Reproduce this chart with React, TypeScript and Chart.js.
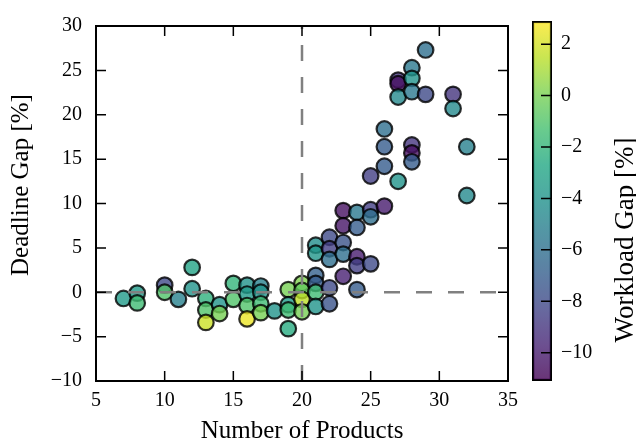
import React, { useEffect, useRef } from 'react';
import { Chart, registerables } from 'chart.js';
Chart.register(...registerables);

// ---- data ----
const productCounts = [7, 8, 8, 10, 10, 11, 12, 12, 13, 13, 13, 14, 14, 15, 15, 16, 16, 16, 16, 17, 17, 17, 17, 18, 19, 19, 19, 19, 20, 20, 20, 20, 21, 21, 21, 21, 21, 21, 22, 22, 22, 22, 22, 23, 23, 23, 23, 23, 24, 24, 24, 24, 24, 25, 25, 25, 25, 26, 26, 26, 26, 27, 27, 27, 27, 28, 28, 28, 28, 28, 28, 29, 29, 31, 31, 32, 32];
const deadlineGaps = [-0.7, -0.1, -1.2, 0.8, 0.0, -0.8, 2.8, 0.4, -0.7, -2.0, -3.4, -1.4, -2.4, 1.0, -0.8, 0.8, -0.2, -1.5, -3.0, 0.7, 0.0, -1.3, -2.3, -2.1, 0.3, -1.4, -2.0, -4.1, 1.0, 0.2, -0.8, -2.2, 5.3, 4.4, 1.9, 1.0, 0.0, -1.6, 6.2, 4.9, 3.7, 0.5, -1.3, 9.2, 7.5, 5.6, 4.3, 1.8, 9.0, 7.3, 4.0, 3.0, 0.3, 9.3, 8.5, 3.2, 13.1, 9.7, 18.4, 16.4, 14.2, 12.5, 23.9, 23.5, 22.0, 25.3, 24.1, 22.6, 16.6, 15.7, 14.7, 27.3, 22.3, 22.3, 20.7, 16.4, 10.9];
const workloadGaps = [-3.5, -3.5, -1.5, -8, -1, -5, -3, -4, -2.2, -1, 1.8, -4, 0, -2, -1, -4, -3.5, -1, 2.5, -5, -4, -1.5, 0, -4, 0, -3.5, -1.5, -2.5, 0.2, -0.5, 1.5, 0, -4.3, -3.8, -6.8, -7, -1.5, -4, -8, -8.5, -6, -8, -7.5, -10.5, -10.3, -7.5, -6, -9.8, -5.5, -7, -10, -8.5, -7, -8.5, -6, -8, -8.5, -10, -6, -7, -7, -4, -9, -10.5, -4.5, -5.5, -4, -5.5, -9, -10.5, -7, -6, -8, -9, -4.5, -5, -4.5];

const X_RANGE = [5, 35];
const Y_RANGE = [-10, 30];
const X_STEP = 5;
const Y_STEP = 5;
const COLOR_RANGE = [-11.1, 2.9];
const COLOR_TICKS = [-10, -8, -6, -4, -2, 0, 2];
const THRESHOLD_PRODUCTS = 20;
const THRESHOLD_GAP = 0;

const X_LABEL = 'Number of Products';
const Y_LABEL = 'Deadline Gap [%]';
const C_LABEL = 'Workload Gap [%]';

// ---- viridis colormap ----
const VIRIDIS = ['#440154', '#482475', '#414487', '#355f8d', '#2a788e', '#21918c', '#22a884', '#44bf70', '#7ad151', '#bddf26', '#fde725'];
const ALPHA = 0.8;
function hexToRgb(h: string) {
  return [parseInt(h.slice(1, 3), 16), parseInt(h.slice(3, 5), 16), parseInt(h.slice(5, 7), 16)];
}
function viridis(t: number, a = ALPHA) {
  t = Math.max(0, Math.min(1, t));
  const n = VIRIDIS.length - 1;
  const i = Math.min(Math.floor(t * n), n - 1);
  const f = t * n - i;
  const c0 = hexToRgb(VIRIDIS[i]);
  const c1 = hexToRgb(VIRIDIS[i + 1]);
  const c = c0.map((v, k) => Math.round(v + (c1[k] - v) * f));
  return `rgba(${c[0]},${c[1]},${c[2]},${a})`;
}
const colorFor = (z: number) => viridis((z - COLOR_RANGE[0]) / (COLOR_RANGE[1] - COLOR_RANGE[0]));

const FONT = '"Liberation Serif", "Times New Roman", serif';
const fmt = (v: number) => (v < 0 ? '\u2212' + Math.abs(v) : String(v));

const W = 636;
const H = 445;

const mainPlugin = {
  id: 'mainDecor',
  afterDatasetsDraw(chart: any) {
    const { ctx, chartArea: a, scales } = chart;
    const xs = scales.x;
    const ys = scales.y;
    ctx.save();
    ctx.strokeStyle = '#000';
    ctx.lineWidth = 1.5;
    const TL = 10;
    ctx.beginPath();
    xs.ticks.forEach((t: any) => {
      const p = xs.getPixelForValue(t.value);
      ctx.moveTo(p, a.bottom);
      ctx.lineTo(p, a.bottom - TL);
      ctx.moveTo(p, a.top);
      ctx.lineTo(p, a.top + TL);
    });
    ys.ticks.forEach((t: any) => {
      const p = ys.getPixelForValue(t.value);
      ctx.moveTo(a.left, p);
      ctx.lineTo(a.left + TL, p);
      ctx.moveTo(a.right, p);
      ctx.lineTo(a.right - TL, p);
    });
    ctx.stroke();
    ctx.lineWidth = 2;
    ctx.strokeRect(a.left, a.top, a.right - a.left, a.bottom - a.top);
    ctx.restore();
  },
  afterDraw(chart: any) {
    const { ctx, chartArea: a } = chart;
    ctx.save();
    ctx.fillStyle = '#000';
    ctx.font = `25px ${FONT}`;
    ctx.textAlign = 'center';
    ctx.textBaseline = 'alphabetic';
    ctx.fillText(X_LABEL, (a.left + a.right) / 2, a.bottom + 57);
    ctx.translate(a.left - 68, a.top + 159);
    ctx.rotate(-Math.PI / 2);
    ctx.fillText(Y_LABEL, 0, 0);
    ctx.restore();
  },
};

const cbPlugin = {
  id: 'cbDecor',
  afterDatasetsDraw(chart: any) {
    const { ctx, chartArea: a, scales } = chart;
    const ys = scales.y;
    ctx.save();
    ctx.strokeStyle = '#000';
    ctx.lineWidth = 1.5;
    ctx.beginPath();
    ys.ticks.forEach((t: any) => {
      const p = ys.getPixelForValue(t.value);
      ctx.moveTo(a.right - 1, p);
      ctx.lineTo(a.right - 11, p);
    });
    ctx.stroke();
    ctx.fillStyle = '#000';
    ctx.font = `27px ${FONT}`;
    ctx.textAlign = 'center';
    ctx.textBaseline = 'alphabetic';
    ctx.translate(a.right + 81, a.top + 219);
    ctx.rotate(-Math.PI / 2);
    ctx.fillText(C_LABEL, 0, 0);
    ctx.restore();
  },
};

export default function App() {
  const mainRef = useRef<HTMLCanvasElement>(null);
  const cbRef = useRef<HTMLCanvasElement>(null);

  useEffect(() => {
    document.body.style.margin = '0';
    const points = productCounts.map((x, i) => ({ x, y: deadlineGaps[i] }));
    const colors = workloadGaps.map(colorFor);

    const main = new Chart(mainRef.current!, {
      type: 'scatter',
      data: {
        datasets: [
          {
            type: 'line',
            data: [{ x: THRESHOLD_PRODUCTS, y: Y_RANGE[0] }, { x: THRESHOLD_PRODUCTS, y: Y_RANGE[1] }],
            borderColor: '#808080',
            borderWidth: 2.5,
            borderDash: [16, 16],
            pointRadius: 0,
            fill: false,
            order: 0,
          } as any,
          {
            type: 'line',
            data: [{ x: X_RANGE[0], y: THRESHOLD_GAP }, { x: X_RANGE[1], y: THRESHOLD_GAP }],
            borderColor: '#808080',
            borderWidth: 2.5,
            borderDash: [16, 16],
            pointRadius: 0,
            fill: false,
            order: 0,
          } as any,
          {
            type: 'scatter',
            data: points,
            backgroundColor: colors,
            borderColor: 'rgba(0,0,0,0.8)',
            borderWidth: 2.2,
            pointRadius: 7.8,
            pointHoverRadius: 7.8,
            order: 1,
          } as any,
        ],
      },
      options: {
        animation: false,
        responsive: false,
        events: [],
        layout: { padding: { top: 17, right: 128, left: 0, bottom: 0 } },
        plugins: { legend: { display: false }, tooltip: { enabled: false } },
        scales: {
          x: {
            type: 'linear',
            min: X_RANGE[0],
            max: X_RANGE[1],
            grid: { display: false, drawTicks: false },
            border: { display: false },
            ticks: { stepSize: X_STEP, padding: 8, color: '#000', font: { family: FONT, size: 20 }, callback: (v: any) => fmt(Number(v)), maxRotation: 0 },
            afterFit: (s: any) => { s.height = 64; },
          },
          y: {
            type: 'linear',
            min: Y_RANGE[0],
            max: Y_RANGE[1],
            grid: { display: false, drawTicks: false },
            border: { display: false },
            ticks: { stepSize: Y_STEP, padding: 14, color: '#000', font: { family: FONT, size: 20 }, callback: (v: any) => fmt(Number(v)) },
            afterFit: (s: any) => { s.width = 96; },
          },
        },
      } as any,
      plugins: [mainPlugin],
    });

    const cb = new Chart(cbRef.current!, {
      type: 'bar',
      data: {
        labels: [''],
        datasets: [
          {
            data: [[COLOR_RANGE[0], COLOR_RANGE[1]]],
            backgroundColor: (c: any) => {
              const area = c.chart.chartArea;
              if (!area) return 'rgba(0,0,0,0)';
              const g = c.chart.ctx.createLinearGradient(0, area.bottom, 0, area.top);
              const n = 40;
              for (let i = 0; i <= n; i++) g.addColorStop(i / n, viridis(i / n));
              return g;
            },
            borderColor: '#000',
            borderWidth: 2,
            borderSkipped: false,
            barPercentage: 1,
            categoryPercentage: 1,
          } as any,
        ],
      },
      options: {
        animation: false,
        responsive: false,
        events: [],
        layout: { padding: { top: 17, right: 0, left: 532, bottom: 64 } },
        plugins: { legend: { display: false }, tooltip: { enabled: false } },
        scales: {
          x: { display: false },
          y: {
            position: 'right',
            min: COLOR_RANGE[0],
            max: COLOR_RANGE[1],
            grid: { display: false, drawTicks: false },
            border: { display: false },
            afterBuildTicks: (s: any) => { s.ticks = COLOR_TICKS.map((value) => ({ value })); },
            ticks: { padding: 9, color: '#000', font: { family: FONT, size: 20 }, callback: (v: any) => fmt(Number(v)) },
            afterFit: (s: any) => { s.width = 84; },
          },
        },
      } as any,
      plugins: [cbPlugin],
    });

    return () => {
      main.destroy();
      cb.destroy();
    };
  }, []);

  return (
    <div style={{ position: 'relative', width: W, height: H, background: '#fff' }}>
      <canvas ref={mainRef} width={W} height={H} style={{ position: 'absolute', left: 0, top: 0 }} />
      <canvas ref={cbRef} width={W} height={H} style={{ position: 'absolute', left: 0, top: 0 }} />
    </div>
  );
}
